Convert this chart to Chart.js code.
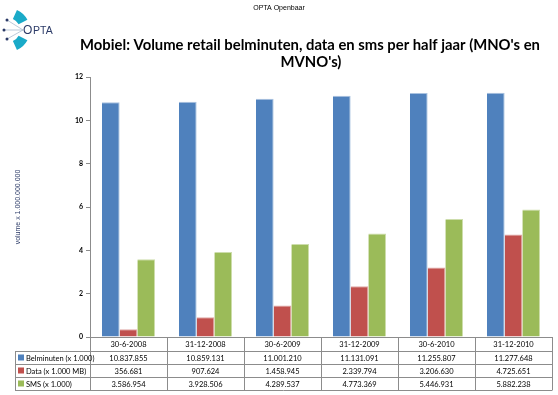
<!DOCTYPE html>
<html>
<head>
<meta charset="utf-8">
<script src="https://cdn.jsdelivr.net/npm/chart.js@4"></script>
<style>
  body { margin: 0; background: #fff; }
  #wrap { width: 558px; height: 395px; }
</style>
</head>
<body>
<div id="wrap"><canvas id="myChart" width="558" height="395"></canvas></div>
<script>
// periodes en reeksen (waarden x 1.000)
const categories = ['30-6-2008', '31-12-2008', '30-6-2009', '31-12-2009', '30-6-2010', '31-12-2010'];
const belminuten = [10837855, 10859131, 11001210, 11131091, 11255807, 11277648];
const dataMB = [356681, 907624, 1458945, 2339794, 3206630, 4725651];
const sms = [3586954, 3928506, 4289537, 4773369, 5446931, 5882238];
const seriesLabels = ['Belminuten (x 1.000)', 'Data (x 1.000 MB)', 'SMS (x 1.000)'];
const seriesColors = ['#4F81BD', '#C0504D', '#9BBB59'];
const edgeColors = ['#A9C2E0', '#E0A8A6', '#CDDDAC'];
const yMax = 12;
const yStep = 2;

const allSeries = [belminuten, dataMB, sms];

function formatNL(value) {
  return String(value).replace(/\B(?=(\d{3})+(?!\d))/g, '.');
}

// logo, titel en de tabel onder de grafiek
const decorPlugin = {
  id: 'decor',
  afterDraw(chart) {
    const ctx = chart.ctx;
    const area = chart.chartArea;
    ctx.save();

    // kop
    ctx.fillStyle = '#000';
    ctx.font = '7px "Liberation Sans", Arial, sans-serif';
    ctx.textAlign = 'center';
    ctx.textBaseline = 'middle';
    ctx.fillText('OPTA Openbaar', 279, 8);

    // logo
    ctx.fillStyle = '#1AAAC8';
    [[-66, -28], [28, 66]].forEach(([a, b]) => {
      ctx.beginPath();
      ctx.arc(8, 30, 22, a * Math.PI / 180, b * Math.PI / 180);
      ctx.arc(8, 30, 12, b * Math.PI / 180, a * Math.PI / 180, true);
      ctx.closePath();
      ctx.fill();
    });
    ctx.strokeStyle = '#9fb3c8';
    ctx.lineWidth = 0.7;
    [[7, 20], [4, 30], [7, 39]].forEach(([x, y]) => {
      ctx.beginPath();
      ctx.moveTo(x, y);
      ctx.lineTo(23, 30);
      ctx.stroke();
    });
    ctx.fillStyle = '#2B3A67';
    [[7, 20], [4, 30], [7, 39]].forEach(([x, y]) => {
      ctx.beginPath();
      ctx.arc(x, y, 1.5, 0, Math.PI * 2);
      ctx.fill();
    });
    ctx.textAlign = 'left';
    ctx.font = '12px "Liberation Sans", Arial, sans-serif';
    ctx.fillText('O', 23, 31);
    ctx.font = '10.5px "Liberation Sans", Arial, sans-serif';
    ctx.fillText('PTA', 33, 31.5);

    // titel
    const line1 = "Mobiel: Volume retail belminuten, data en sms per half jaar (MNO's en";
    const line2 = "MVNO's)";
    let size = 15;
    ctx.font = 'bold ' + size + 'px Lato, "Open Sans", sans-serif';
    size = size * 460 / ctx.measureText(line1).width;
    ctx.font = 'bold ' + size.toFixed(2) + 'px Lato, "Open Sans", sans-serif';
    ctx.fillStyle = '#000';
    ctx.textAlign = 'center';
    ctx.fillText(line1, 310, 45);
    ctx.fillText(line2, 311, 62);

    // tabel
    const colW = (area.right - area.left) / categories.length;
    const rows = [area.bottom, area.bottom + 14, area.bottom + 27, area.bottom + 40, area.bottom + 53];
    const leftX = 15;
    ctx.strokeStyle = '#8c8c8c';
    ctx.lineWidth = 1;
    ctx.beginPath();
    for (let i = 1; i < rows.length; i++) {
      const y = Math.round(rows[i]) + 0.5;
      ctx.moveTo(leftX, y);
      ctx.lineTo(area.right, y);
    }
    for (let c = 0; c <= categories.length; c++) {
      const x = Math.round(area.left + c * colW) + 0.5;
      ctx.moveTo(x, rows[0]);
      ctx.lineTo(x, Math.round(rows[4]) + 0.5);
    }
    ctx.moveTo(leftX + 0.5, Math.round(rows[1]) + 0.5);
    ctx.lineTo(leftX + 0.5, Math.round(rows[4]) + 0.5);
    ctx.stroke();

    ctx.font = '7.5px Lato, "Open Sans", sans-serif';
    ctx.fillStyle = '#000';
    ctx.textAlign = 'center';
    categories.forEach((cat, c) => {
      ctx.fillText(cat, area.left + (c + 0.5) * colW, (rows[0] + rows[1]) / 2 + 1);
    });
    allSeries.forEach((series, r) => {
      const yMid = (rows[r + 1] + rows[r + 2]) / 2 + 1;
      series.forEach((v, c) => {
        ctx.textAlign = 'center';
        ctx.fillText(formatNL(v), area.left + (c + 0.5) * colW, yMid);
      });
      ctx.fillStyle = seriesColors[r];
      ctx.fillRect(18, yMid - 4, 6, 6);
      ctx.fillStyle = '#000';
      ctx.textAlign = 'left';
      ctx.fillText(seriesLabels[r], 26, yMid);
    });

    ctx.restore();
  }
};

const ctx = document.getElementById('myChart').getContext('2d');

new Chart(ctx, {
  type: 'bar',
  data: {
    labels: categories,
    datasets: allSeries.map((series, i) => ({
      label: seriesLabels[i],
      data: series.map(v => v / 1e6),
      backgroundColor: seriesColors[i],
      borderColor: edgeColors[i],
      borderWidth: { top: 1, right: 1, left: 0, bottom: 0 },
      borderSkipped: 'bottom',
      categoryPercentage: 0.69,
      barPercentage: 1.0
    }))
  },
  options: {
    responsive: false,
    animation: false,
    layout: { padding: { left: 0, top: 77, right: 6, bottom: 58 } },
    plugins: {
      legend: { display: false },
      tooltip: { enabled: false }
    },
    scales: {
      x: {
        ticks: { display: false },
        grid: { display: false },
        border: { color: '#8c8c8c' },
        afterFit: s => { s.height = 0; }
      },
      y: {
        min: 0,
        max: yMax,
        ticks: {
          stepSize: yStep,
          color: '#000',
          padding: 3,
          font: { size: 7, weight: 'bold', family: 'Lato, sans-serif' }
        },
        grid: { drawOnChartArea: false, tickLength: 4, color: '#8c8c8c' },
        border: { color: '#8c8c8c' },
        title: {
          display: true,
          text: 'volume x 1.000.000.000',
          color: '#2B3A67',
          padding: { top: 14, bottom: 0 },
          font: { size: 7, family: '"Liberation Sans", Arial, sans-serif' }
        },
        afterFit: s => { s.width = 90; }
      }
    }
  },
  plugins: [decorPlugin]
});
</script>
</body>
</html>
